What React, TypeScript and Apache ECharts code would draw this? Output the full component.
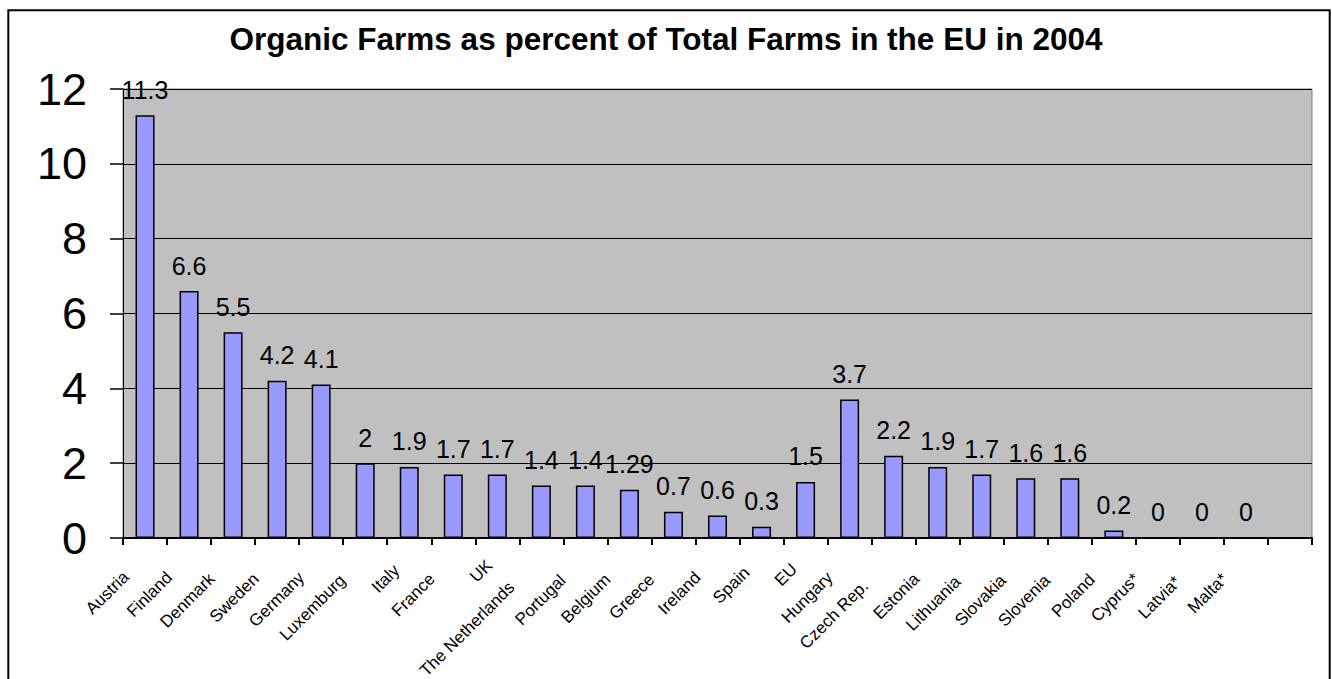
import React, { useEffect, useRef } from "react";
import * as echarts from "echarts";

const title = "Organic Farms as percent of Total Farms in the EU in 2004";
const categories = [
  "Austria", "Finland", "Denmark", "Sweden", "Germany", "Luxemburg", "Italy", "France", "UK",
  "The Netherlands", "Portugal", "Belgium", "Greece", "Ireland", "Spain", "EU", "Hungary",
  "Czech Rep.", "Estonia", "Lithuania", "Slovakia", "Slovenia", "Poland", "Cyprus*", "Latvia*",
  "Malta*", "",
];
const values = [
  11.3, 6.6, 5.5, 4.2, 4.1, 2, 1.9, 1.7, 1.7, 1.4, 1.4, 1.29, 0.7, 0.6, 0.3, 1.5, 3.7, 2.2, 1.9,
  1.7, 1.6, 1.6, 0.2, 0, 0, 0, null,
];
const yMin = 0;
const yMax = 12;
const yStep = 2;

// label end offsets (style only)
const labelPad: Record<string, number> = {
  Austria: 27, Finland: 28, Denmark: 30, Sweden: 30, Germany: 28, Luxemburg: 32, Italy: 18,
  France: 30, UK: 11, "The Netherlands": 42, Portugal: 32, Belgium: 31, Greece: 31, Ireland: 28,
  Spain: 21, EU: 16, Hungary: 28, "Czech Rep.": 40, Estonia: 30, Lithuania: 34, Slovakia: 32,
  Slovenia: 32, Poland: 31, "Cyprus*": 30, "Latvia*": 34, "Malta*": 30,
};

const FONT = 'Arial, "Liberation Sans", sans-serif';

export default function App() {
  const ref = useRef<HTMLDivElement>(null);
  useEffect(() => {
    if (!ref.current) return;
    const chart = echarts.init(ref.current, null, { renderer: "svg" });
    chart.setOption({
      animation: false,
      backgroundColor: "#ffffff",
      title: {
        text: title,
        left: "center",
        top: 23,
        padding: 0,
        textStyle: { fontFamily: FONT, fontSize: 31.5, fontWeight: "bold", color: "#000" },
      },
      graphic: [
        {
          type: "rect",
          shape: { x: 8.3, y: 10.3, width: 1321.4, height: 700 },
          style: { fill: "none", stroke: "#000", lineWidth: 2 },
          silent: true,
          z: 100,
        },
      ],
      grid: {
        left: 123,
        top: 89,
        right: 20,
        bottom: 141,
        outerBoundsMode: "none",
        containLabel: false,
        show: true,
        backgroundColor: "#C0C0C0",
        borderColor: "#808080",
        borderWidth: 1,
      },
      xAxis: {
        type: "category",
        data: categories.map((c) => ({
          value: c,
          textStyle: { padding: [0, labelPad[c] ?? 30, 0, 0] },
        })),
        boundaryGap: true,
        axisLine: { show: true, lineStyle: { color: "#000", width: 2 } },
        axisTick: { show: true, length: 7, interval: 0, lineStyle: { color: "#000", width: 2 } },
        axisLabel: {
          interval: 0,
          rotate: 45,
          margin: 17,
          fontFamily: FONT,
          fontSize: 17,
          color: "#000",
        },
      },
      yAxis: {
        type: "value",
        min: yMin,
        max: yMax,
        interval: yStep,
        axisLine: { show: true, lineStyle: { color: "#000", width: 1 } },
        axisTick: { show: true, length: 13, lineStyle: { color: "#000", width: 1.5 } },
        splitLine: { show: true, lineStyle: { color: "#000", width: 1 } },
        axisLabel: { fontFamily: FONT, fontSize: 45, color: "#000", margin: 36 },
      },
      series: [
        {
          type: "bar",
          data: values,
          barWidth: 19,
          itemStyle: { color: "#9999FF", borderColor: "#000", borderWidth: 1.5 },
          label: {
            show: true,
            position: "top",
            distance: 13,
            fontFamily: FONT,
            fontSize: 25,
            color: "#000",
          },
        },
      ],
    });
    return () => chart.dispose();
  }, []);
  return (
    <div
      ref={ref}
      style={{ position: "fixed", left: 0, top: 0, width: 1332, height: 679 }}
    />
  );
}
